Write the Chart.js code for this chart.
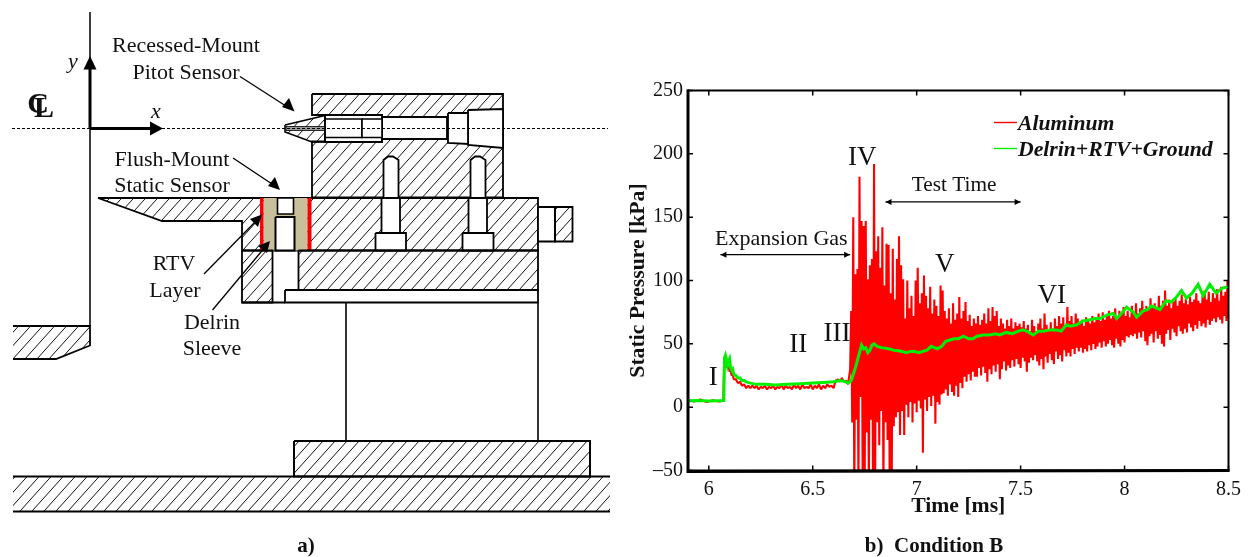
<!DOCTYPE html>
<html>
<head>
<meta charset="utf-8">
<title>Static pressure traces, condition B</title>
<script src="https://cdn.jsdelivr.net/npm/chart.js@4"></script>
<style>
  html, body { margin: 0; padding: 0; background: #fff; overflow: hidden; }
  canvas { position: absolute; top: 0; display: block; }
  #sketch { left: 0; }
  #trace { left: 620px; }
</style>
</head>
<body>
<canvas id="sketch" width="620" height="557"></canvas>
<canvas id="trace" width="628" height="557"></canvas>
<script>
// ---- b) pressure traces ----
var xTickValues = [6, 6.5, 7, 7.5, 8, 8.5];
var yTickValues = [-50, 0, 50, 100, 150, 200, 250];

var aluminumTime = [
  5.9, 5.93, 5.96, 5.99, 6.02, 6.05, 6.07, 6.074, 6.078, 6.082,
  6.086, 6.09, 6.095, 6.1, 6.105, 6.11, 6.115, 6.12, 6.13, 6.14,
  6.15, 6.16, 6.17, 6.18, 6.19, 6.2,
  6.21, 6.22, 6.23, 6.24, 6.25, 6.26, 6.27, 6.28, 6.29, 6.3,
  6.31, 6.32, 6.33, 6.34, 6.35, 6.36, 6.37, 6.38, 6.39, 6.4,
  6.41, 6.42, 6.43, 6.44, 6.45, 6.46, 6.47, 6.48, 6.49, 6.5,
  6.51, 6.52, 6.53, 6.54, 6.55, 6.56, 6.57, 6.58, 6.59, 6.6,
  6.61, 6.62, 6.63, 6.64, 6.65, 6.66, 6.67, 6.68, 6.685,
  6.69, 6.695, 6.7, 6.705, 6.71, 6.715, 6.72, 6.725, 6.73, 6.735,
  6.74, 6.745, 6.75, 6.755, 6.76, 6.765, 6.77, 6.775, 6.78, 6.785,
  6.79, 6.795, 6.8, 6.805, 6.81, 6.815, 6.82, 6.825, 6.83, 6.835,
  6.84, 6.845, 6.85, 6.855, 6.86, 6.865, 6.87, 6.875, 6.88, 6.885,
  6.89, 6.895, 6.9, 6.905, 6.91, 6.915, 6.92, 6.925, 6.93, 6.935,
  6.94, 6.945, 6.95, 6.955, 6.96, 6.965, 6.97, 6.975, 6.98, 6.985,
  6.99, 6.995, 7, 7.005, 7.01, 7.015, 7.02, 7.025, 7.03, 7.035,
  7.04, 7.045, 7.05, 7.055, 7.06, 7.065, 7.07, 7.075, 7.08, 7.085,
  7.09, 7.095, 7.1, 7.105, 7.11, 7.115, 7.12, 7.125, 7.13, 7.135,
  7.14, 7.145, 7.15, 7.155, 7.16, 7.165, 7.17, 7.175, 7.18, 7.185,
  7.19, 7.195, 7.2, 7.205, 7.21, 7.215, 7.22, 7.225, 7.23, 7.235,
  7.24, 7.245, 7.25, 7.255, 7.26, 7.265, 7.27, 7.275, 7.28, 7.285,
  7.29, 7.295, 7.3, 7.305, 7.31, 7.315, 7.32, 7.325, 7.33, 7.335,
  7.34, 7.345, 7.35, 7.355, 7.36, 7.365, 7.37, 7.375, 7.38, 7.385,
  7.39, 7.395, 7.4, 7.405, 7.41, 7.415, 7.42, 7.425, 7.43, 7.435,
  7.44, 7.445, 7.45, 7.455, 7.46, 7.465, 7.47, 7.475, 7.48, 7.485,
  7.49, 7.495, 7.5, 7.505, 7.51, 7.515, 7.52, 7.525, 7.53, 7.535,
  7.54, 7.545, 7.55, 7.555, 7.56, 7.565, 7.57, 7.575, 7.58, 7.585,
  7.59, 7.595, 7.6, 7.605, 7.61, 7.615, 7.62, 7.625, 7.63, 7.635,
  7.64, 7.645, 7.65, 7.655, 7.66, 7.665, 7.67, 7.675, 7.68, 7.685,
  7.69, 7.695, 7.7, 7.705, 7.71, 7.715, 7.72, 7.725, 7.73, 7.735,
  7.74, 7.745, 7.75, 7.755, 7.76, 7.765, 7.77, 7.775, 7.78, 7.785,
  7.79, 7.795, 7.8, 7.805, 7.81, 7.815, 7.82, 7.825, 7.83, 7.835,
  7.84, 7.845, 7.85, 7.855, 7.86, 7.865, 7.87, 7.875, 7.88, 7.885,
  7.89, 7.895, 7.9, 7.905, 7.91, 7.915, 7.92, 7.925, 7.93, 7.935,
  7.94, 7.945, 7.95, 7.955, 7.96, 7.965, 7.97, 7.975, 7.98, 7.985,
  7.99, 7.995, 8, 8.005, 8.01, 8.015, 8.02, 8.025, 8.03, 8.035,
  8.04, 8.045, 8.05, 8.055, 8.06, 8.065, 8.07, 8.075, 8.08, 8.085,
  8.09, 8.095, 8.1, 8.105, 8.11, 8.115, 8.12, 8.125, 8.13, 8.135,
  8.14, 8.145, 8.15, 8.155, 8.16, 8.165, 8.17, 8.175, 8.18, 8.185,
  8.19, 8.195, 8.2, 8.205, 8.21, 8.215, 8.22, 8.225, 8.23, 8.235,
  8.24, 8.245, 8.25, 8.255, 8.26, 8.265, 8.27, 8.275, 8.28, 8.285,
  8.29, 8.295, 8.3, 8.305, 8.31, 8.315, 8.32, 8.325, 8.33, 8.335,
  8.34, 8.345, 8.35, 8.355, 8.36, 8.365, 8.37, 8.375, 8.38, 8.385,
  8.39, 8.395, 8.4, 8.405, 8.41, 8.415, 8.42, 8.425, 8.43, 8.435,
  8.44, 8.445, 8.45, 8.455, 8.46, 8.465, 8.47, 8.475, 8.48, 8.485,
  8.49, 8.495, 8.5
];
var aluminumPressure = [
  5.5, 4.5, 6, 4, 5.5, 4.5, 5, 38, 40, 36,
  31, 35, 33, 28, 29, 25, 26, 22, 22, 19,
  20, 17, 18, 15, 17, 15,
  17, 15, 17, 14, 16, 15, 17, 14, 16, 15,
  17, 14, 16, 15, 18, 14, 17, 15, 16, 14,
  18, 15, 17, 14, 18, 15, 16, 15, 18, 14,
  17, 15, 18, 14, 17, 15, 18, 16, 17, 15,
  21, 22, 20, 23, 20, 21, 18, 30, 76,
  -12, 150, -70, 105, -10, 109, -70, 182, 8, 147,
  -55, 143, -62, 147, -20, 101, -70, 112, -10, 117,
  -65, 192, -70, 123, -12, 135, -30, 110, -3, 142,
  -70, 96, -12, 129, -26, 128, -60, 90, -68, 125,
  -15, 85, -8, 117, -4, 135, -22, 112, -3, 101,
  -22, 70, 2, 100, -8, 78, 4, 88, -12, 72,
  3, 100, -4, 110, 5, 82, -1, 90, -36, 104,
  6, 88, -3, 78, 8, 95, 1, 74, 9, 85,
  -13, 80, 4, 72, 2, 96, 10, 92, 11, 76,
  14, 70, 9, 78, 18, 66, 12, 82, 9, 69,
  17, 74, 8, 87, 19, 70, 15, 76, 24, 83,
  20, 68, 26, 73, 21, 64, 28, 70, 24, 66,
  24, 72, 31, 65, 25, 69, 32, 74, 27, 66,
  20, 78, 30, 68, 26, 79, 33, 72, 28, 76,
  34, 64, 22, 70, 30, 66, 36, 62, 29, 69,
  33, 64, 31, 70, 37, 62, 32, 67, 38, 64,
  34, 66, 31, 63, 39, 68, 36, 62, 28, 65,
  35, 60, 39, 69, 37, 64, 41, 60, 36, 66,
  33, 70, 38, 62, 30, 74, 40, 65, 35, 61,
  42, 67, 37, 62, 34, 70, 44, 64, 38, 72,
  41, 66, 36, 71, 45, 63, 40, 79, 43, 68,
  40, 72, 46, 66, 42, 74, 47, 70, 44, 67,
  47, 69, 43, 64, 46, 71, 44, 68, 49, 66,
  45, 72, 50, 67, 46, 70, 48, 74, 51, 68,
  47, 75, 52, 69, 48, 73, 50, 76, 53, 70,
  49, 72, 47, 78, 54, 71, 50, 76, 48, 74,
  53, 79, 51, 72, 56, 76, 55, 71, 57, 80,
  56, 75, 58, 82, 54, 74, 59, 78, 55, 84,
  60, 76, 52, 80, 49, 77, 56, 86, 58, 79,
  51, 82, 60, 78, 54, 88, 57, 80, 50, 84,
  48, 92, 58, 80, 61, 85, 53, 78, 62, 83,
  59, 87, 56, 80, 64, 84, 60, 89, 58, 82,
  62, 86, 59, 81, 66, 87, 63, 83, 60, 85,
  65, 90, 62, 84, 68, 82, 64, 88, 66, 92,
  63, 85, 69, 91, 65, 83, 68, 90, 70, 86,
  67, 93, 71, 84, 69, 95, 66, 88, 72, 91,
  68, 100, 70
];

var delrinTime = [
  5.9, 5.95, 6, 6.05, 6.072, 6.076, 6.08, 6.085, 6.09, 6.095,
  6.1, 6.105, 6.11, 6.115, 6.12, 6.13, 6.14, 6.15, 6.16, 6.17,
  6.18, 6.2, 6.23, 6.27, 6.32, 6.38, 6.44, 6.5, 6.55, 6.6,
  6.63, 6.65, 6.67, 6.685, 6.695, 6.705, 6.715, 6.725, 6.735, 6.745,
  6.755, 6.765, 6.775, 6.785, 6.795, 6.81, 6.83, 6.85, 6.87, 6.89,
  6.91, 6.93, 6.95, 6.97, 6.99, 7.01, 7.03, 7.05, 7.07, 7.085,
  7.1, 7.12, 7.14, 7.16, 7.18, 7.2, 7.225, 7.25, 7.27, 7.29,
  7.32, 7.35, 7.38, 7.4, 7.43, 7.46, 7.49, 7.51, 7.53, 7.56,
  7.585, 7.61, 7.64, 7.67, 7.695, 7.72, 7.74, 7.77, 7.8, 7.834,
  7.86, 7.88, 7.92, 7.946, 7.962, 7.985, 8.01, 8.025, 8.042, 8.058,
  8.09, 8.11, 8.13, 8.17, 8.2, 8.225, 8.25, 8.274, 8.298, 8.325,
  8.354, 8.378, 8.41, 8.44, 8.47, 8.5
];
var delrinPressure = [
  5, 5.2, 4.9, 5.1, 5.2, 39, 41, 38, 33, 36,
  38, 31, 29, 30, 26, 25, 23, 23, 21, 21,
  20, 19, 18, 18, 17.5, 18, 18.5, 19, 19.5, 20,
  21, 20.5, 19, 21, 26, 31, 37, 43, 49, 46,
  47, 43, 45, 49, 50, 48, 47, 46.5, 46, 45,
  44.5, 44, 43, 44, 44, 43, 44, 45, 48, 47,
  46, 48, 52, 53, 54, 54, 56, 54, 54, 56,
  57, 57, 58, 57, 59, 58, 60, 61, 60, 57,
  60, 60, 61, 61, 60, 65, 64, 65, 68, 69,
  70, 70, 73, 74, 70, 74, 79, 77, 75, 71,
  76, 77, 80, 77, 84, 83, 87, 92, 86, 90,
  97, 88, 97, 90, 94, 95
];

// ---- a) sketch of the model, drawing units are the picture's own pixels ----
var groundSlab = [[13, 476.5], [610, 476.5], [610, 511.5], [13, 511.5]];
var groundTop = [[13, 476.5], [610, 476.5]];
var groundBottom = [[13, 511.5], [610, 511.5]];
var baseBlock = [[294, 441], [590, 441], [590, 476.5], [294, 476.5]];
var columnLeft = [[346, 303], [346, 441]];
var columnRight = [[538, 303], [538, 441]];
var nozzleSlab = [[90, 326], [90, 345.5], [56, 359], [13, 359], [13, 326]];
var nozzleOutline = [[13, 326], [90, 326], [90, 345.5], [56, 359], [13, 359]];
var centerAxis = [[90, 12], [90, 326]];

var housing = [[312, 94], [503, 94], [503, 197.5], [312, 197.5], [312, 141.5], [330, 141.5], [330, 115], [312, 115]];
var cavityEnd = [[468, 110], [503, 109], [503, 148], [468, 145]];
var cavityHex = [[448, 113], [468, 113], [468, 144], [448, 143]];
var cavityRod = [[382, 117], [447, 117], [447, 139], [382, 139]];
var threadOuter = [[325, 115], [382, 115], [382, 142], [325, 142]];
var threadInnerA = [[325, 119], [362, 119], [362, 137.5], [325, 137.5]];
var threadInnerB = [[362, 119], [382, 119], [382, 137.5], [362, 137.5]];
var noseCone = [[285, 125], [325, 115.5], [325, 142], [312, 142], [285, 132]];
var noseTube = [[286, 126.5], [325, 126.5], [325, 130.5], [286, 130.5]];
var boltTopA = [[383.5, 197.5], [383.5, 160], [388, 156.5], [393, 156.5], [398.5, 160], [398.5, 197.5]];
var boltTopB = [[470.5, 197.5], [470.5, 160], [475, 156.5], [480, 156.5], [485.5, 160], [485.5, 197.5]];

var midPlate = [[98, 198], [538, 198], [538, 250.5], [242, 250.5], [242, 221], [162, 221]];
var sleeveTan = [[263.5, 198], [307.5, 198], [307.5, 250.5], [263.5, 250.5]];
var rtvLeft = [[260, 198], [263.5, 198], [263.5, 250.5], [260, 250.5]];
var rtvRight = [[307.5, 198], [311.5, 198], [311.5, 250.5], [307.5, 250.5]];
var sensorTop = [[277.5, 198], [293.5, 198], [293.5, 214], [277.5, 214]];
var sensorBody = [[275.5, 217], [294.5, 217], [294.5, 250.5], [275.5, 250.5]];
var boltShankA = [[381.5, 198], [400, 198], [400, 233], [381.5, 233]];
var boltHeadA = [[375.5, 233], [406, 233], [406, 250.5], [375.5, 250.5]];
var boltShankB = [[468.5, 198], [487, 198], [487, 233], [468.5, 233]];
var boltHeadB = [[462.5, 233], [493.5, 233], [493.5, 250.5], [462.5, 250.5]];
var sideStub = [[538, 207], [555, 207], [555, 241.5], [538, 241.5]];
var sideCap = [[555, 207], [572.5, 207], [572.5, 241.5], [555, 241.5]];

var lowerLeft = [[242, 250.5], [272.5, 250.5], [272.5, 302.5], [242, 302.5]];
var lowerRight = [[298.5, 250.5], [538, 250.5], [538, 290], [298.5, 290]];
var lowerPlate = [[285, 290], [538, 290], [538, 302.5], [285, 302.5]];
var lowerEdge = [[242, 302.5], [285, 302.5]];

var centerLine = [[12, 128.5], [608, 128.5]];
var yArrowShaft = [[90, 128.5], [90, 68]];
var yArrowHead = [[90, 56], [83.5, 69.5], [96.5, 69.5]];
var xArrowShaft = [[90, 128.5], [151, 128.5]];
var xArrowHead = [[163, 128.5], [150, 121.5], [150, 135.5]];

var pitotLeader = [[240, 76.5], [289, 108]];
var pitotHead = [[294.5, 111.5], [282, 107], [289, 98]];
var staticLeader = [[233, 158], [275, 186]];
var staticHead = [[280, 190], [268, 186], [275, 177]];
var rtvLeader = [[204, 274], [258, 219]];
var rtvHead = [[262, 214.5], [258, 227], [250, 219]];
var sleeveLeader = [[212.5, 310], [266, 246]];
var sleeveHead = [[270, 241], [267, 253], [258, 246]];

var hatch = "hatch";
var sketchParts = [
  { pts: groundSlab, fill: hatch, lw: 0 },
  { pts: groundTop, lw: 2 },
  { pts: groundBottom, lw: 2 },
  { pts: baseBlock, fill: hatch, lw: 2, closed: true },
  { pts: columnLeft, lw: 1.6 },
  { pts: columnRight, lw: 1.6 },
  { pts: nozzleSlab, fill: hatch, lw: 0 },
  { pts: nozzleOutline, lw: 1.8 },
  { pts: centerAxis, lw: 1.5 },
  { pts: housing, fill: hatch, lw: 1.8, closed: true },
  { pts: cavityEnd, fill: "#fff", lw: 1.8, closed: true },
  { pts: cavityHex, fill: "#fff", lw: 1.8, closed: true },
  { pts: cavityRod, fill: "#fff", lw: 1.8, closed: true },
  { pts: threadOuter, fill: "#fff", lw: 2, closed: true },
  { pts: threadInnerA, fill: "#fff", lw: 1.6, closed: true },
  { pts: threadInnerB, fill: "#fff", lw: 1.6, closed: true },
  { pts: noseCone, fill: hatch, lw: 1.6, closed: true },
  { pts: noseTube, fill: "#9a9a9a", lw: 0.8, closed: true },
  { pts: boltTopA, fill: "#fff", lw: 1.8 },
  { pts: boltTopB, fill: "#fff", lw: 1.8 },
  { pts: midPlate, fill: hatch, lw: 1.8, closed: true },
  { pts: sleeveTan, fill: "#c7c09b", lw: 0 },
  { pts: rtvLeft, fill: "#ff0000", lw: 0 },
  { pts: rtvRight, fill: "#ff0000", lw: 0 },
  { pts: sensorTop, fill: "#fff", lw: 1.6, closed: true },
  { pts: sensorBody, fill: "#fff", lw: 2, closed: true },
  { pts: boltShankA, fill: "#fff", lw: 1.8, closed: true },
  { pts: boltHeadA, fill: "#fff", lw: 1.8, closed: true },
  { pts: boltShankB, fill: "#fff", lw: 1.8, closed: true },
  { pts: boltHeadB, fill: "#fff", lw: 1.8, closed: true },
  { pts: sideStub, fill: "#fff", lw: 1.8, closed: true },
  { pts: sideCap, fill: hatch, lw: 1.8, closed: true },
  { pts: lowerLeft, fill: hatch, lw: 1.8, closed: true },
  { pts: lowerRight, fill: hatch, lw: 1.8, closed: true },
  { pts: lowerPlate, fill: "#fff", lw: 1.8, closed: true },
  { pts: lowerEdge, lw: 1.8 },
  { pts: centerLine, lw: 1, dash: [3, 2] },
  { pts: yArrowShaft, lw: 3 },
  { pts: yArrowHead, fill: "#000", lw: 0 },
  { pts: xArrowShaft, lw: 3 },
  { pts: xArrowHead, fill: "#000", lw: 0 },
  { pts: pitotLeader, lw: 1.3 },
  { pts: pitotHead, fill: "#000", lw: 0 },
  { pts: staticLeader, lw: 1.3 },
  { pts: staticHead, fill: "#000", lw: 0 },
  { pts: rtvLeader, lw: 1.3 },
  { pts: rtvHead, fill: "#000", lw: 0 },
  { pts: sleeveLeader, lw: 1.3 },
  { pts: sleeveHead, fill: "#000", lw: 0 }
];

var serif = "'Liberation Serif', 'Times New Roman', serif";
var sketchLabels = [
  { text: "Recessed-Mount", x: 186, y: 52, font: "22px " + serif },
  { text: "Pitot Sensor", x: 186, y: 79, font: "22px " + serif },
  { text: "Flush-Mount", x: 172, y: 166, font: "22px " + serif },
  { text: "Static Sensor", x: 172, y: 192, font: "22px " + serif },
  { text: "RTV", x: 174, y: 270, font: "22px " + serif },
  { text: "Layer", x: 175, y: 297, font: "22px " + serif },
  { text: "Delrin", x: 212, y: 329, font: "22px " + serif },
  { text: "Sleeve", x: 212, y: 355, font: "22px " + serif },
  { text: "y", x: 73, y: 68, font: "italic 22px " + serif },
  { text: "x", x: 156, y: 118, font: "italic 22px " + serif },
  { text: "C", x: 38, y: 113, font: "bold 30px " + serif },
  { text: "L", x: 44, y: 117, font: "bold 30px " + serif },
  { text: "a)", x: 306, y: 551.5, font: "bold 21px " + serif }
];

var traceLabels = [
  { text: "I", t: 6.021, p: 17.5, font: "27px " + serif },
  { text: "II", t: 6.43, p: 43.8, font: "27px " + serif },
  { text: "III", t: 6.617, p: 52.2, font: "27px " + serif },
  { text: "IV", t: 6.738, p: 191.2, font: "27px " + serif },
  { text: "V", t: 7.135, p: 106.5, font: "27px " + serif },
  { text: "VI", t: 7.65, p: 82.5, font: "27px " + serif },
  { text: "Expansion Gas", t: 6.349, p: 128, font: "22px " + serif },
  { text: "Test Time", t: 7.18, p: 170.9, font: "21.3px " + serif }
];
var traceSpans = [
  { from: 6.056, to: 6.68, p: 120.4 },
  { from: 6.85, to: 7.5, p: 162 }
];

// white, tan and hatched fills go under the line the library draws for each part
var sketchFillPlugin = {
  id: "sketchFill",
  beforeDatasetDraw: function (chart, args) {
    var part = sketchParts[args.index];
    if (!part.fill) return;
    var pixels = args.meta.data;
    var ctx = chart.ctx;
    ctx.save();
    ctx.beginPath();
    pixels.forEach(function (p, i) {
      if (i === 0) ctx.moveTo(p.x, p.y);
      else ctx.lineTo(p.x, p.y);
    });
    ctx.closePath();
    if (part.fill !== hatch) {
      ctx.fillStyle = part.fill;
      ctx.fill();
    } else {
      ctx.clip();
      ctx.strokeStyle = "#111";
      ctx.lineWidth = 1;
      ctx.beginPath();
      for (var k = 0; k < 1300; k += 12) {
        ctx.moveTo(k, 0);
        ctx.lineTo(k - 540, 600);
      }
      ctx.stroke();
    }
    ctx.restore();
  },
  afterDraw: function (chart) {
    var ctx = chart.ctx;
    var xs = chart.scales.x;
    var ys = chart.scales.y;
    ctx.save();
    ctx.fillStyle = "#111";
    ctx.textAlign = "center";
    ctx.textBaseline = "alphabetic";
    sketchLabels.forEach(function (l) {
      ctx.font = l.font;
      ctx.fillText(l.text, xs.getPixelForValue(l.x), ys.getPixelForValue(l.y));
    });
    ctx.restore();
  }
};

function drawArrowHead(ctx, x, y, dir) {
  ctx.beginPath();
  ctx.moveTo(x, y);
  ctx.lineTo(x - dir * 6, y - 3);
  ctx.lineTo(x - dir * 6, y + 3);
  ctx.closePath();
  ctx.fill();
}

var traceFramePlugin = {
  id: "traceFrame",
  afterDraw: function (chart) {
    var ctx = chart.ctx;
    var area = chart.chartArea;
    var xs = chart.scales.x;
    var ys = chart.scales.y;
    ctx.save();

    // frame and inward ticks on all four sides
    ctx.strokeStyle = "#000";
    ctx.lineWidth = 1.5;
    ctx.beginPath();
    xTickValues.forEach(function (v) {
      var px = xs.getPixelForValue(v);
      ctx.moveTo(px, area.bottom);
      ctx.lineTo(px, area.bottom - 5);
      ctx.moveTo(px, area.top);
      ctx.lineTo(px, area.top + 5);
    });
    yTickValues.forEach(function (v) {
      var py = ys.getPixelForValue(v);
      ctx.moveTo(area.left, py);
      ctx.lineTo(area.left + 5, py);
      ctx.moveTo(area.right, py);
      ctx.lineTo(area.right - 5, py);
    });
    ctx.stroke();
    ctx.lineWidth = 2;
    ctx.strokeRect(area.left, area.top, area.right - area.left, area.bottom - area.top);
    ctx.lineWidth = 3;
    ctx.beginPath();
    ctx.moveTo(area.left, area.top - 1);
    ctx.lineTo(area.left, area.bottom + 1);
    ctx.lineTo(area.right + 1, area.bottom);
    ctx.stroke();

    // stage labels and time spans
    ctx.fillStyle = "#111";
    ctx.textAlign = "center";
    ctx.textBaseline = "alphabetic";
    traceLabels.forEach(function (l) {
      ctx.font = l.font;
      ctx.fillText(l.text, xs.getPixelForValue(l.t), ys.getPixelForValue(l.p));
    });
    ctx.fillStyle = "#000";
    ctx.lineWidth = 1.2;
    traceSpans.forEach(function (s) {
      var x0 = xs.getPixelForValue(s.from);
      var x1 = xs.getPixelForValue(s.to);
      var y = ys.getPixelForValue(s.p);
      ctx.beginPath();
      ctx.moveTo(x0, y);
      ctx.lineTo(x1, y);
      ctx.stroke();
      drawArrowHead(ctx, x0, y, -1);
      drawArrowHead(ctx, x1, y, 1);
    });

    // legend
    ctx.textAlign = "left";
    ctx.font = "italic bold 21.7px " + serif;
    chart.data.datasets.forEach(function (ds, i) {
      var rowY = 122.5 + i * 26;
      ctx.strokeStyle = ds.borderColor;
      ctx.lineWidth = 1.4;
      ctx.beginPath();
      ctx.moveTo(374, rowY);
      ctx.lineTo(397, rowY);
      ctx.stroke();
      ctx.fillStyle = "#111";
      ctx.fillText(ds.label, 398, rowY + 7.5);
    });

    ctx.fillStyle = "#111";
    ctx.textAlign = "center";
    ctx.font = "bold 21px " + serif;
    ctx.fillText("b)  Condition B", 314, 551.5);
    ctx.restore();
  }
};

new Chart(document.getElementById("sketch"), {
  type: "scatter",
  data: {
    datasets: sketchParts.map(function (part, i) {
      var pts = part.closed ? part.pts.concat([part.pts[0]]) : part.pts;
      return {
        data: pts.map(function (p) { return { x: p[0], y: p[1] }; }),
        showLine: true,
        tension: 0,
        pointRadius: 0,
        borderColor: "#000",
        borderWidth: part.lw,
        borderDash: part.dash || [],
        borderJoinStyle: "miter",
        order: sketchParts.length - i
      };
    })
  },
  options: {
    responsive: false,
    animation: false,
    layout: { padding: 0 },
    plugins: { legend: { display: false }, tooltip: { enabled: false } },
    events: [],
    scales: {
      x: { type: "linear", display: false, min: 0, max: 620 },
      y: { type: "linear", display: false, min: 0, max: 557, reverse: true }
    }
  },
  plugins: [sketchFillPlugin]
});

function toPoints(times, values) {
  return times.map(function (t, i) { return { x: t, y: values[i] }; });
}

new Chart(document.getElementById("trace"), {
  type: "scatter",
  data: {
    datasets: [
      {
        label: "Aluminum",
        data: toPoints(aluminumTime, aluminumPressure),
        showLine: true,
        tension: 0,
        pointRadius: 0,
        borderColor: "#ff0000",
        borderWidth: 2.1,
        borderJoinStyle: "bevel",
        order: 2
      },
      {
        label: "Delrin+RTV+Ground",
        data: toPoints(delrinTime, delrinPressure),
        showLine: true,
        tension: 0,
        pointRadius: 0,
        borderColor: "#00f000",
        borderWidth: 3,
        order: 1
      }
    ]
  },
  options: {
    responsive: false,
    animation: false,
    events: [],
    layout: { padding: { top: 90.5, right: 19, bottom: 38, left: 0 } },
    plugins: { legend: { display: false }, tooltip: { enabled: false } },
    scales: {
      x: {
        type: "linear",
        min: 5.9,
        max: 8.5,
        afterBuildTicks: function (scale) {
          scale.ticks = xTickValues.map(function (v) { return { value: v }; });
        },
        afterFit: function (scale) { scale.height = 48.5; },
        grid: { display: false, drawTicks: false },
        border: { display: false },
        ticks: {
          color: "#111",
          padding: 7,
          maxRotation: 0,
          autoSkip: false,
          font: { family: serif, size: 20 },
          callback: function (v) { return String(v); }
        },
        title: {
          display: true,
          text: "Time [ms]",
          color: "#111",
          padding: 0,
          font: { family: serif, size: 21.7, weight: "bold" }
        }
      },
      y: {
        type: "linear",
        min: -50,
        max: 250,
        afterBuildTicks: function (scale) {
          scale.ticks = yTickValues.map(function (v) { return { value: v }; });
        },
        afterFit: function (scale) { scale.width = 68; },
        grid: { display: false, drawTicks: false },
        border: { display: false },
        ticks: {
          color: "#111",
          padding: 5,
          autoSkip: false,
          font: { family: serif, size: 20 },
          callback: function (v) { return v < 0 ? "\u2013" + Math.abs(v) : String(v); }
        },
        title: {
          display: true,
          text: "Static Pressure [kPa]",
          color: "#111",
          padding: { top: 5, bottom: 0 },
          font: { family: serif, size: 21.7, weight: "bold" }
        }
      }
    }
  },
  plugins: [traceFramePlugin]
});
</script>
</body>
</html>
